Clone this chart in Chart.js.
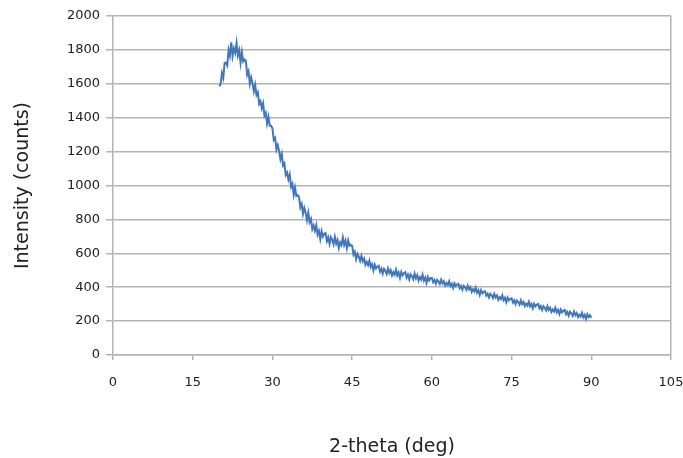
<!DOCTYPE html>
<html>
<head>
  <title>XRD scan</title>
  <style>
    body {
      margin: 0;
      background: #fff;
    }
    #wrap {
      width: 683px;
      height: 458px;
    }
  </style>
</head>
<body>
  <div id="wrap">
    <canvas id="xrdChart" width="683" height="458"></canvas>
  </div>

  <script src="https://cdn.jsdelivr.net/npm/chart.js"></script>

  <script>
    // scan angles (deg), one row = 2 deg
    const twoTheta = [
      20, 20.25, 20.5, 20.75, 21, 21.25, 21.5, 21.75,
      22, 22.25, 22.5, 22.75, 23, 23.25, 23.5, 23.75,
      24, 24.25, 24.5, 24.75, 25, 25.25, 25.5, 25.75,
      26, 26.25, 26.5, 26.75, 27, 27.25, 27.5, 27.75,
      28, 28.25, 28.5, 28.75, 29, 29.25, 29.5, 29.75,
      30, 30.25, 30.5, 30.75, 31, 31.25, 31.5, 31.75,
      32, 32.25, 32.5, 32.75, 33, 33.25, 33.5, 33.75,
      34, 34.25, 34.5, 34.75, 35, 35.25, 35.5, 35.75,
      36, 36.25, 36.5, 36.75, 37, 37.25, 37.5, 37.75,
      38, 38.25, 38.5, 38.75, 39, 39.25, 39.5, 39.75,
      40, 40.25, 40.5, 40.75, 41, 41.25, 41.5, 41.75,
      42, 42.25, 42.5, 42.75, 43, 43.25, 43.5, 43.75,
      44, 44.25, 44.5, 44.75, 45, 45.25, 45.5, 45.75,
      46, 46.25, 46.5, 46.75, 47, 47.25, 47.5, 47.75,
      48, 48.25, 48.5, 48.75, 49, 49.25, 49.5, 49.75,
      50, 50.25, 50.5, 50.75, 51, 51.25, 51.5, 51.75,
      52, 52.25, 52.5, 52.75, 53, 53.25, 53.5, 53.75,
      54, 54.25, 54.5, 54.75, 55, 55.25, 55.5, 55.75,
      56, 56.25, 56.5, 56.75, 57, 57.25, 57.5, 57.75,
      58, 58.25, 58.5, 58.75, 59, 59.25, 59.5, 59.75,
      60, 60.25, 60.5, 60.75, 61, 61.25, 61.5, 61.75,
      62, 62.25, 62.5, 62.75, 63, 63.25, 63.5, 63.75,
      64, 64.25, 64.5, 64.75, 65, 65.25, 65.5, 65.75,
      66, 66.25, 66.5, 66.75, 67, 67.25, 67.5, 67.75,
      68, 68.25, 68.5, 68.75, 69, 69.25, 69.5, 69.75,
      70, 70.25, 70.5, 70.75, 71, 71.25, 71.5, 71.75,
      72, 72.25, 72.5, 72.75, 73, 73.25, 73.5, 73.75,
      74, 74.25, 74.5, 74.75, 75, 75.25, 75.5, 75.75,
      76, 76.25, 76.5, 76.75, 77, 77.25, 77.5, 77.75,
      78, 78.25, 78.5, 78.75, 79, 79.25, 79.5, 79.75,
      80, 80.25, 80.5, 80.75, 81, 81.25, 81.5, 81.75,
      82, 82.25, 82.5, 82.75, 83, 83.25, 83.5, 83.75,
      84, 84.25, 84.5, 84.75, 85, 85.25, 85.5, 85.75,
      86, 86.25, 86.5, 86.75, 87, 87.25, 87.5, 87.75,
      88, 88.25, 88.5, 88.75, 89, 89.25, 89.5, 89.75,
      90
    ];

    // measured intensity (counts) at each angle
    const counts = [
      1585, 1598, 1664, 1635, 1723, 1725, 1708, 1800,
      1766, 1845, 1764, 1809, 1782, 1840, 1767, 1798,
      1725, 1787, 1731, 1743, 1736, 1653, 1674, 1600,
      1638, 1604, 1555, 1594, 1534, 1549, 1482, 1497,
      1456, 1485, 1412, 1429, 1365, 1405, 1353, 1353,
      1338, 1269, 1281, 1213, 1238, 1204, 1155, 1187,
      1119, 1131, 1062, 1077, 1036, 1065, 992, 1009,
      945, 987, 938, 943, 933, 871, 891, 833,
      868, 839, 795, 840, 784, 803, 742, 764,
      733, 765, 710, 732, 685, 731, 699, 715,
      719, 672, 694, 655, 695, 680, 654, 697,
      656, 678, 631, 664, 648, 693, 650, 675,
      630, 676, 644, 650, 644, 592, 609, 565,
      596, 580, 555, 585, 553, 568, 532, 549,
      531, 557, 519, 535, 500, 533, 511, 522,
      526, 492, 509, 480, 508, 497, 478, 511,
      483, 501, 469, 489, 474, 503, 469, 487,
      455, 490, 470, 483, 489, 456, 475, 446,
      476, 465, 447, 481, 453, 471, 439, 459,
      445, 474, 439, 457, 425, 460, 440, 453,
      455, 429, 443, 421, 443, 434, 419, 444,
      422, 435, 410, 425, 413, 435, 407, 421,
      396, 423, 407, 417, 420, 394, 408, 386,
      409, 400, 384, 409, 387, 400, 373, 388,
      375, 397, 368, 382, 355, 382, 364, 374,
      376, 350, 362, 340, 361, 352, 336, 361,
      339, 352, 326, 341, 330, 352, 324, 338,
      312, 339, 322, 332, 335, 309, 322, 300,
      322, 313, 297, 322, 300, 313, 288, 303,
      292, 314, 287, 301, 276, 303, 287, 297,
      301, 275, 288, 266, 288, 279, 263, 288,
      266, 279, 254, 269, 257, 279, 252, 266,
      241, 268, 252, 262, 266, 240, 254, 232,
      255, 246, 231, 256, 235, 248, 223, 238,
      227, 249, 222, 237, 212, 240, 224, 235,
      220
    ];

    const xMin = 0, xMax = 105, xStep = 15;
    const yMin = 0, yMax = 2000, yStep = 200;

    const gridGray = '#b3b3b3';
    const textColor = '#222';
    const fontFamily = '"DejaVu Sans", Arial, sans-serif';

    const points = twoTheta.map((t, i) => ({ x: t, y: counts[i] }));

    const ctx = document.getElementById('xrdChart').getContext('2d');
    new Chart(ctx, {
      type: 'line',
      data: {
        datasets: [{
          data: points,
          borderColor: '#4177bb',
          borderWidth: 2,
          pointRadius: 0,
          tension: 0,
          fill: false
        }]
      },
      options: {
        responsive: false,
        animation: false,
        layout: {
          padding: { left: 0, right: 0, top: 16, bottom: 0 }
        },
        plugins: {
          legend: { display: false },
          tooltip: { enabled: false }
        },
        scales: {
          x: {
            type: 'linear',
            min: xMin,
            max: xMax,
            ticks: {
              stepSize: xStep,
              color: textColor,
              padding: 15,
              maxRotation: 0,
              callback: (v) => String(v),
              font: { family: fontFamily, size: 13 }
            },
            grid: {
              // only the right-hand frame line goes up through the plot
              color: (c) => (c.tick && c.tick.value === xMax) ? gridGray : 'rgba(0,0,0,0)',
              tickColor: gridGray,
              tickLength: 5,
              lineWidth: 1.5
            },
            border: { color: gridGray, width: 1.5 },
            title: {
              display: true,
              text: '2-theta (deg)',
              color: textColor,
              padding: { top: 0, bottom: 0 },
              font: { family: fontFamily, size: 19 }
            },
            afterFit: (scale) => {
              scale.height = 103;
              scale.paddingLeft = 0;
              scale.paddingRight = 12;
            }
          },
          y: {
            min: yMin,
            max: yMax,
            ticks: {
              stepSize: yStep,
              color: textColor,
              padding: 6,
              callback: (v) => String(v),
              font: { family: fontFamily, size: 13 }
            },
            grid: {
              color: gridGray,
              tickColor: gridGray,
              tickLength: 7,
              lineWidth: 1.5
            },
            border: { color: gridGray, width: 1.5 },
            title: {
              display: true,
              text: 'Intensity (counts)',
              color: textColor,
              padding: { top: 12, bottom: 0 },
              font: { family: fontFamily, size: 19 }
            },
            afterFit: (scale) => { scale.width = 113; }
          }
        }
      }
    });
  </script>
</body>
</html>
